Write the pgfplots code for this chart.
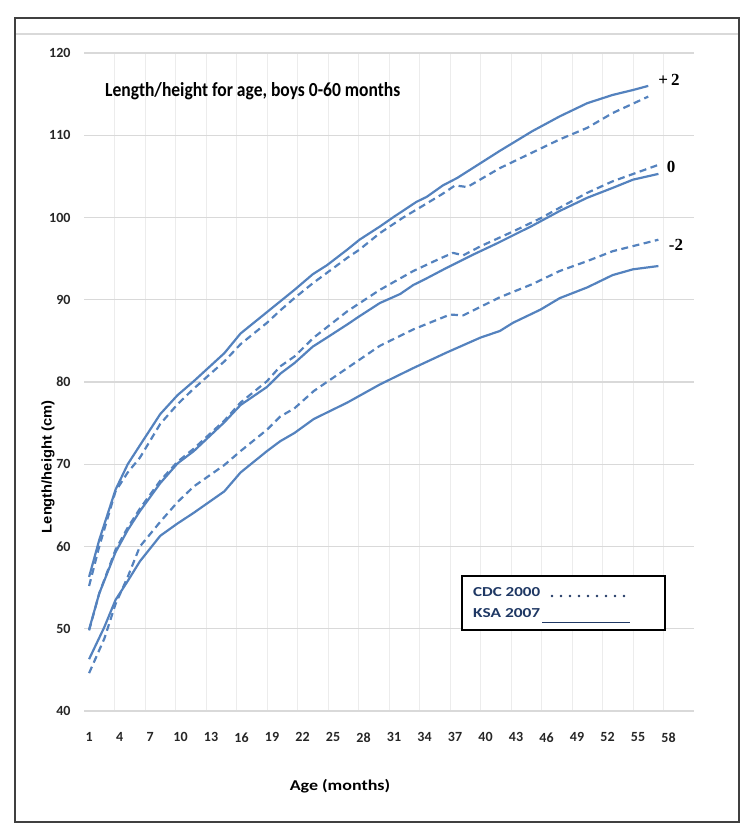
\documentclass[border=0pt]{standalone}
\usepackage{graphicx}
\usepackage{pgfplots}
\pgfplotsset{compat=1.18}
\usepackage{fontspec}
\setmainfont{Carlito}
\newfontfamily\lsans{Liberation Sans}
\newfontfamily\lserif{Liberation Serif}
\definecolor{ln}{RGB}{84,130,190}
\definecolor{navy}{RGB}{31,56,100}
\definecolor{hgrid}{RGB}{217,217,217}
\definecolor{vgrid}{RGB}{236,236,236}
\definecolor{framec}{RGB}{64,64,64}
\begin{document}
\begin{tikzpicture}[x=1pt,y=1pt]
\useasboundingbox (0,0) rectangle (754,840);
\draw[framec, line width=2pt] (15,18) rectangle (739,822);
\draw[hgrid, line width=1.2pt] (16,806) -- (738,806);
\begin{axis}[
  at={(84pt,129pt)}, anchor=south west,
  scale only axis, width=610pt, height=658pt,
  xmin=0.5, xmax=60.5, ymin=40, ymax=120,
  xtick={1,4,...,58}, ytick={40,50,...,120},
  minor xtick={3.5,6.5,...,57.5},
  xminorgrids, ymajorgrids,
  major grid style={hgrid, line width=1.3pt},
  minor grid style={vgrid, line width=0.9pt},
  axis line style={draw=none},
  major tick length=0pt, minor tick length=0pt,
  tick style={draw=none},
  xticklabel shift=18pt, yticklabel shift=10pt,
  ticklabel style={font=\fontsize{14}{16}\selectfont\bfseries, text=black!85},
  /pgf/number format/assume math mode=true,
  line join=round,
]
% +2 KSA 2007
\addplot[ln, line width=2.2pt] coordinates {(1,56.3) (2,60.8) (3.6,66.9) (4.8,70.0) (6,72.3) (8,76.1) (9.7,78.4) (11.3,80.1) (14.3,83.5) (15.9,85.9) (18.5,88.5) (20,90.0) (21.2,91.2) (23,93.1) (24.4,94.2) (26.4,96.1) (27.6,97.3) (29.6,98.9) (31,100.1) (33.2,101.9) (34.2,102.5) (35.8,103.9) (37.2,104.8) (41.4,108.1) (44.6,110.5) (47.3,112.3) (50,113.9) (52.5,114.9) (54.5,115.5) (56,116.0)};
% +2 CDC 2000
\addplot[ln, line width=2.2pt, dash pattern=on 7pt off 4.5pt] coordinates {(1,55.2) (2,60.0) (3.6,66.7) (4.8,69.0) (6,70.8) (8,74.9) (9.7,77.3) (11.3,79.2) (14.3,82.5) (15.9,84.6) (18.5,87.2) (19.8,88.7) (21.2,90.2) (23,92.0) (26.4,95.1) (27.6,96.1) (29.6,98.1) (31.9,100.0) (34.2,101.7) (35.8,102.9) (37,103.9) (38.2,103.7) (41.4,106.0) (44.6,107.9) (47.3,109.5) (50,110.9) (52.5,112.7) (56,114.7)};
% 0 KSA 2007
\addplot[ln, line width=2.2pt] coordinates {(1,49.9) (2,54.3) (3.6,59.3) (4.8,62.0) (6,64.3) (8,67.7) (9.7,70.1) (11.3,71.6) (14.3,75.1) (15.9,77.2) (18.5,79.4) (19.8,81.0) (21.2,82.3) (23,84.3) (24.4,85.4) (26.4,87.0) (27.6,88.0) (29.6,89.6) (31.6,90.7) (32.9,91.8) (34.2,92.6) (36.2,93.9) (38.8,95.5) (41.2,96.9) (44.6,99.0) (47.3,100.8) (50,102.4) (52.5,103.6) (54.5,104.6) (57,105.3)};
% 0 CDC 2000
\addplot[ln, line width=2.2pt, dash pattern=on 7pt off 4.5pt] coordinates {(1,49.8) (2,54.3) (3.6,59.6) (4.8,62.3) (6,64.6) (8,68.0) (9.7,70.3) (11.3,71.9) (14.3,75.3) (15.9,77.5) (18.5,80.1) (19.8,81.9) (21.2,83.1) (23.1,85.4) (26.4,88.6) (29.6,91.2) (32.9,93.5) (35.5,95.0) (36.8,95.7) (37.8,95.4) (39.5,96.5) (42.7,98.3) (45.4,99.9) (47.3,101.2) (50,103.0) (52.5,104.4) (57,106.4)};
% -2 CDC 2000
\addplot[ln, line width=2.2pt, dash pattern=on 7pt off 4.5pt] coordinates {(1,44.6) (2.5,48.8) (3.6,53.0) (4.8,56.3) (6,60.0) (8,63.0) (9.7,65.4) (11.3,67.3) (14.3,69.9) (15.9,71.6) (18.5,74.2) (19.8,75.8) (21.2,76.8) (23.1,78.9) (26.4,81.7) (29.6,84.4) (32.9,86.4) (36.5,88.2) (37.8,88.1) (41.4,90.3) (44.6,91.9) (47.3,93.5) (50,94.7) (52.5,95.9) (57,97.3)};
% -2 KSA 2007
\addplot[ln, line width=2.2pt] coordinates {(1,46.3) (2.5,50.2) (3.6,53.5) (4.8,55.8) (6,58.2) (8,61.3) (9.7,62.8) (11.3,64.1) (14.3,66.7) (15.9,69.0) (18.5,71.6) (19.8,72.8) (21.2,73.8) (23.1,75.5) (26.4,77.5) (29.6,79.7) (32.9,81.7) (36.2,83.6) (39.5,85.4) (41.4,86.2) (42.7,87.2) (45.4,88.8) (47.3,90.2) (50,91.5) (52.5,93.0) (54.5,93.7) (57,94.1)};
\end{axis}
% curve labels
\node[font=\lserif\bfseries\fontsize{17}{19}\selectfont] at (669,760) {+\,2};
\node[font=\lserif\bfseries\fontsize{17}{19}\selectfont] at (671,673) {0};
\node[font=\lserif\bfseries\fontsize{17}{19}\selectfont] at (676,595) {-2};
% title
\node[anchor=west, inner sep=0pt] at (105,749) {\resizebox{295pt}{14pt}{\bfseries Length/height for age, boys 0-60 months}};
% axis titles
\node at (340,54) {\scalebox{1.2}[1]{\fontsize{15}{17}\selectfont\bfseries Age (months)}};
\node[rotate=90] at (48,373) {\scalebox{1.05}[1]{\lsans\bfseries\fontsize{14}{16}\selectfont Length/height (cm)}};
% legend box
\draw[black, line width=1.2pt, fill=white] (462,264) rectangle (665,210);
\node[anchor=base west, inner sep=0pt, text=navy] at (473,243) {\resizebox{67pt}{9pt}{\bfseries CDC 2000}};
\node[anchor=base west, inner sep=0pt, text=navy] at (473,222.5) {\resizebox{67pt}{9pt}{\bfseries KSA 2007}};
\draw[navy, line width=2.8pt, line cap=round, dash pattern=on 0pt off 9pt] (552,244) -- (624,244);
\draw[navy, line width=0.9pt] (542,218) -- (630,218);
\end{tikzpicture}
\end{document}
